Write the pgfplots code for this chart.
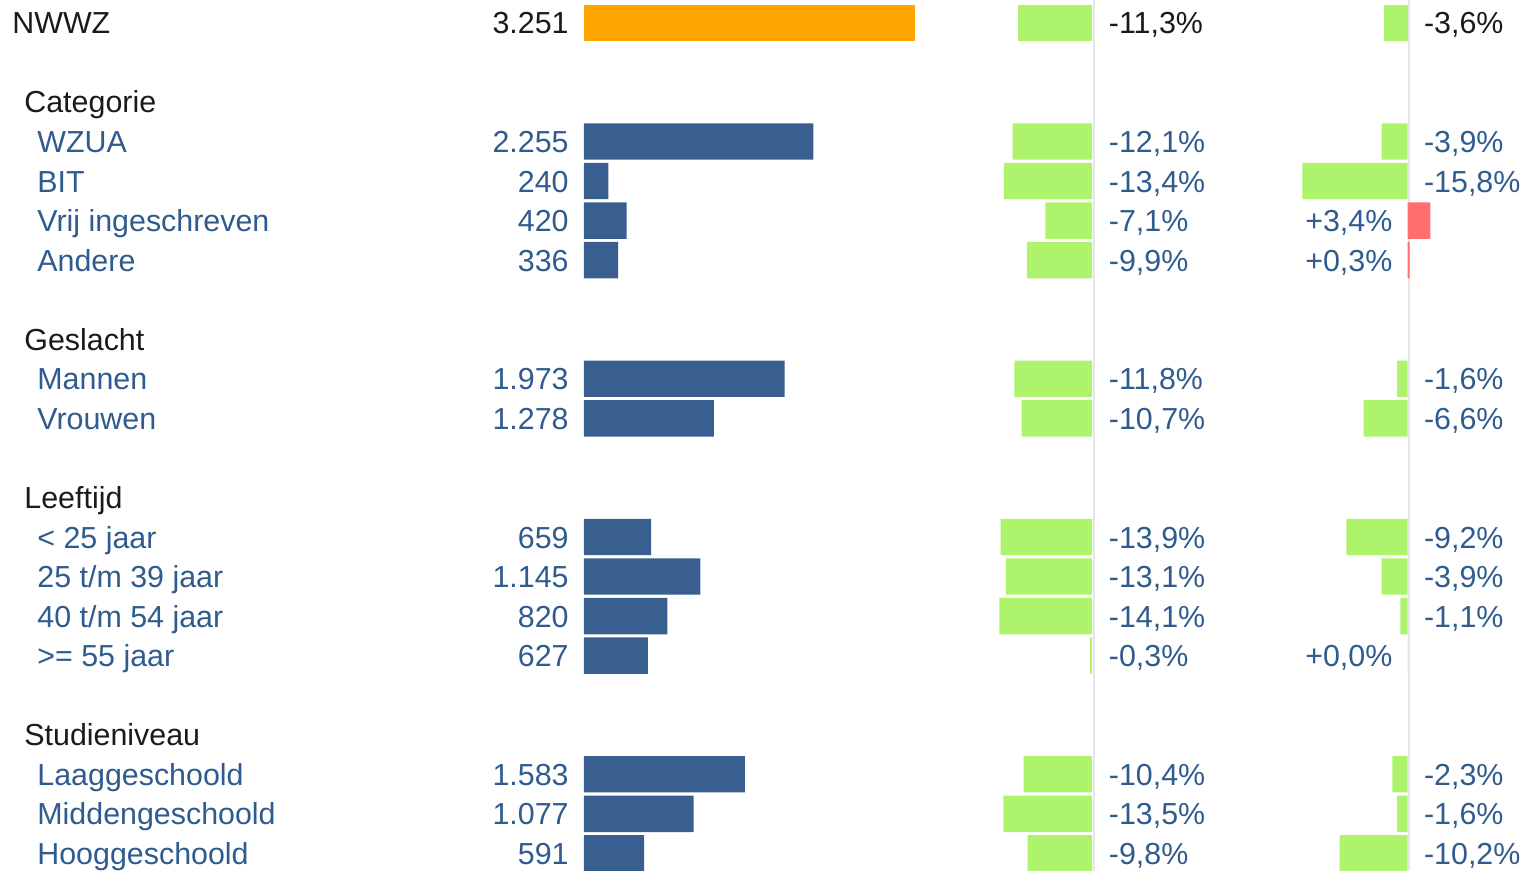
\documentclass[border=0pt]{standalone}
\usepackage{pgfplots}
\pgfplotsset{compat=1.18}
\usepackage{pgfplotstable}
\usepackage{fontspec}
\setmainfont{Liberation Sans}
\definecolor{cOrange}{HTML}{FFA500}
\definecolor{cBar}{HTML}{385F8F}
\definecolor{cText}{HTML}{2F5B8E}
\definecolor{cGreen}{HTML}{ADF46C}
\definecolor{cRed}{HTML}{FF6F6F}
\definecolor{cBlack}{HTML}{1A1A1A}
\definecolor{cGrid}{HTML}{E6E6E6}
\newcommand{\lf}{\fontsize{15.2}{18}\selectfont}
\newcommand{\pct}{\pgfmathprintnumber[fixed,fixed zerofill,precision=1,use comma,print sign]{\pgfplotspointmeta}\%}
\newcommand{\num}{\pgfmathprintnumber[fixed,precision=0,1000 sep={.}]{\pgfplotspointmeta}}

\pgfplotstableread{
row v c1 c2
0 3251 -11.3 -3.6
}\tot
\pgfplotstableread{
row v c1
3 2255 -12.1
4 240 -13.4
5 420 -7.1
6 336 -9.9
9 1973 -11.8
10 1278 -10.7
13 659 -13.9
14 1145 -13.1
15 820 -14.1
16 627 -0.3
19 1583 -10.4
20 1077 -13.5
21 591 -9.8
}\sub
\pgfplotstableread{
row c2
3 -3.9
4 -15.8
9 -1.6
10 -6.6
13 -9.2
14 -3.9
15 -1.1
19 -2.3
20 -1.6
21 -10.2
}\subneg
\pgfplotstableread{
row c2
5 3.4
6 0.3
16 0.0
}\subpos

\tikzset{lbl/.style={font=\lf, inner sep=0pt, yshift=-5.5pt}}
\pgfplotsset{
  rowaxis/.style={
    scale only axis, clip=false, hide axis,
    height=435.05pt, ymin=-0.5, ymax=21.5, y dir=reverse,
    bar width=0.92,
    /pgf/number format/assume math mode=true,
  },
}

\begin{document}
\begin{tikzpicture}
\useasboundingbox (0,0) rectangle (763pt,435.5pt);
\draw[cGrid, line width=1.2pt] (547pt,0) -- (547pt,435.5pt);
\draw[cGrid, line width=1.2pt] (704.5pt,0) -- (704.5pt,435.5pt);

% main values
\begin{axis}[rowaxis, at={(292pt,433.96pt)}, anchor=north west,
  width=165.3pt, xmin=0, xmax=3251]
  \addplot[xbar, bar shift=0pt, fill=cOrange, draw=none] table[x=v, y=row]{\tot};
  \addplot[xbar, bar shift=0pt, fill=cBar, draw=none] table[x=v, y=row]{\sub};
  \addplot[draw=none, nodes near coords={\num}, point meta=\thisrow{v},
    every node near coord/.style={lbl, anchor=base east, xshift=-7.5pt, text=cBlack}]
    table[x expr=0, y=row]{\tot};
  \addplot[draw=none, nodes near coords={\num}, point meta=\thisrow{v},
    every node near coord/.style={lbl, anchor=base east, xshift=-7.5pt, text=cText}]
    table[x expr=0, y=row]{\sub};
  % row labels
  \node[lbl, anchor=base west, xshift=-286pt, text=cBlack] at (axis cs:0,0) {NWWZ};
  \node[lbl, anchor=base west, xshift=-280pt, text=cBlack] at (axis cs:0,2) {Categorie};
  \node[lbl, anchor=base west, xshift=-273.5pt, text=cText] at (axis cs:0,3) {WZUA};
  \node[lbl, anchor=base west, xshift=-273.5pt, text=cText] at (axis cs:0,4) {BIT};
  \node[lbl, anchor=base west, xshift=-273.5pt, text=cText] at (axis cs:0,5) {Vrij ingeschreven};
  \node[lbl, anchor=base west, xshift=-273.5pt, text=cText] at (axis cs:0,6) {Andere};
  \node[lbl, anchor=base west, xshift=-280pt, text=cBlack] at (axis cs:0,8) {Geslacht};
  \node[lbl, anchor=base west, xshift=-273.5pt, text=cText] at (axis cs:0,9) {Mannen};
  \node[lbl, anchor=base west, xshift=-273.5pt, text=cText] at (axis cs:0,10) {Vrouwen};
  \node[lbl, anchor=base west, xshift=-280pt, text=cBlack] at (axis cs:0,12) {Leeftijd};
  \node[lbl, anchor=base west, xshift=-273.5pt, text=cText] at (axis cs:0,13) {< 25 jaar};
  \node[lbl, anchor=base west, xshift=-273.5pt, text=cText] at (axis cs:0,14) {25 t/m 39 jaar};
  \node[lbl, anchor=base west, xshift=-273.5pt, text=cText] at (axis cs:0,15) {40 t/m 54 jaar};
  \node[lbl, anchor=base west, xshift=-273.5pt, text=cText] at (axis cs:0,16) {>= 55 jaar};
  \node[lbl, anchor=base west, xshift=-280pt, text=cBlack] at (axis cs:0,18) {Studieniveau};
  \node[lbl, anchor=base west, xshift=-273.5pt, text=cText] at (axis cs:0,19) {Laaggeschoold};
  \node[lbl, anchor=base west, xshift=-273.5pt, text=cText] at (axis cs:0,20) {Middengeschoold};
  \node[lbl, anchor=base west, xshift=-273.5pt, text=cText] at (axis cs:0,21) {Hooggeschoold};
\end{axis}

% change column 1
\begin{axis}[rowaxis, at={(546pt,433.96pt)}, anchor=north east,
  width=55.85pt, xmin=-17, xmax=0]
  \addplot[xbar, bar shift=0pt, fill=cGreen, draw=none] table[x=c1, y=row]{\tot};
  \addplot[xbar, bar shift=0pt, fill=cGreen, draw=none] table[x=c1, y=row]{\sub};
  \addplot[draw=none, nodes near coords={\pct}, point meta=\thisrow{c1},
    every node near coord/.style={lbl, anchor=base west, xshift=8.25pt, text=cBlack}]
    table[x expr=0, y=row]{\tot};
  \addplot[draw=none, nodes near coords={\pct}, point meta=\thisrow{c1},
    every node near coord/.style={lbl, anchor=base west, xshift=8.25pt, text=cText}]
    table[x expr=0, y=row]{\sub};
\end{axis}

% change column 2
\begin{axis}[rowaxis, at={(647.155pt,433.96pt)}, anchor=north west,
  width=73.37pt, xmin=-17, xmax=5]
  \addplot[xbar, bar shift=0pt, fill=cGreen, draw=none] table[x=c2, y=row]{\tot};
  \addplot[xbar, bar shift=0pt, fill=cGreen, draw=none] table[x=c2, y=row]{\subneg};
  \addplot[xbar, bar shift=0pt, fill=cRed, draw=none] table[x=c2, y=row]{\subpos};
  \addplot[draw=none, nodes near coords={\pct}, point meta=\thisrow{c2},
    every node near coord/.style={lbl, anchor=base west, xshift=8pt, text=cBlack}]
    table[x expr=0, y=row]{\tot};
  \addplot[draw=none, nodes near coords={\pct}, point meta=\thisrow{c2},
    every node near coord/.style={lbl, anchor=base west, xshift=8pt, text=cText}]
    table[x expr=0, y=row]{\subneg};
  \addplot[draw=none, nodes near coords={\pct}, point meta=\thisrow{c2},
    every node near coord/.style={lbl, anchor=base east, xshift=-7.5pt, text=cText}]
    table[x expr=0, y=row]{\subpos};
\end{axis}
\end{tikzpicture}
\end{document}
